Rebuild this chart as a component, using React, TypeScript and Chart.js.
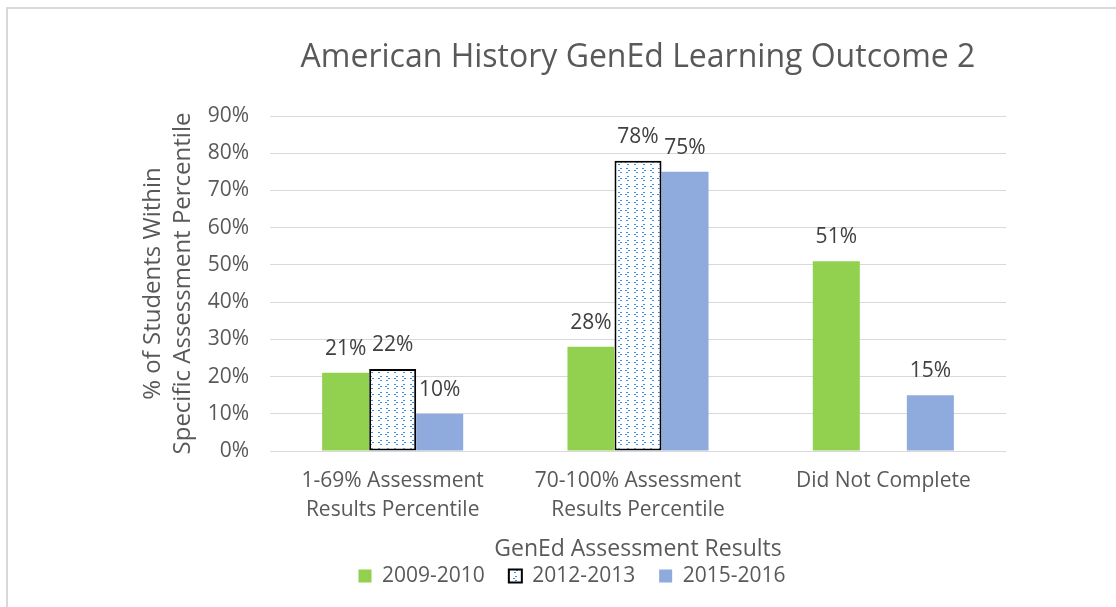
import React, { useEffect, useRef } from "react";
import { Chart, registerables } from "chart.js";

Chart.register(...registerables);

const chartTitle = "American History GenEd Learning Outcome 2";
const categories: (string | string[])[] = [
  ["1-69% Assessment", "Results Percentile"],
  ["70-100% Assessment", "Results Percentile"],
  "Did Not Complete",
];
const seriesNames = ["2009-2010", "2012-2013", "2015-2016"];
const values2009 = [21, 28, 51];
const values2012: (number | null)[] = [22, 78, null];
const values2015 = [10, 75, 15];
const yMin = 0;
const yMax = 90;
const yStep = 10;
const yTitle = ["% of Students Within", "Specific Assessment Percentile"];
const xTitle = "GenEd Assessment Results";

const FONT = '"Open Sans", "Noto Sans", sans-serif';

function makePattern(): CanvasPattern | string {
  const c = document.createElement("canvas");
  c.width = 16;
  c.height = 16;
  const g = c.getContext("2d");
  if (!g) return "#ffffff";
  g.fillStyle = "#ffffff";
  g.fillRect(0, 0, 16, 16);
  g.fillStyle = "#3b8fe3";
  const dots = [
    // "<" in top-left cell
    [3, 0], [1, 2], [3, 4],
    // ">" in top-right cell
    [10, 0], [12, 2], [10, 4],
    // ">" in bottom-left cell
    [2, 8], [4, 10], [2, 12],
    // "<" in bottom-right cell
    [12, 8], [10, 10], [12, 12],
  ];
  dots.forEach(([x, y]) => g.fillRect(x, y, 2, 1));
  const p = g.createPattern(c, "repeat");
  return p || "#ffffff";
}

const dataLabelPlugin = {
  id: "barValueLabels",
  afterDatasetsDraw(chart: any) {
    const ctx = chart.ctx;
    ctx.save();
    ctx.font = `21px ${FONT}`;
    ctx.fillStyle = "#404040";
    ctx.textAlign = "center";
    ctx.textBaseline = "middle";
    chart.data.datasets.forEach((ds: any, i: number) => {
      const meta = chart.getDatasetMeta(i);
      meta.data.forEach((el: any, j: number) => {
        const v = ds.data[j];
        if (v === null || v === undefined) return;
        ctx.fillText(`${v}%`, el.x, el.y - 24);
      });
    });
    ctx.restore();
  },
};

export default function App() {
  const ref = useRef<HTMLCanvasElement | null>(null);

  useEffect(() => {
    if (!ref.current) return;
    const pattern = makePattern();
    const chart = new Chart(ref.current, {
      type: "bar",
      data: {
        labels: categories,
        datasets: [
          {
            label: seriesNames[0],
            data: values2009,
            backgroundColor: "#92d050",
            borderWidth: 0,
          },
          {
            label: seriesNames[1],
            data: values2012,
            backgroundColor: pattern as any,
            borderColor: "#000000",
            borderWidth: 2,
            borderSkipped: false,
          },
          {
            label: seriesNames[2],
            data: values2015,
            backgroundColor: "#8faadc",
            borderWidth: 0,
          },
        ],
      },
      options: {
        responsive: false,
        animation: false,
        devicePixelRatio: 1,
        layout: { padding: { left: 28, right: 0, top: 0, bottom: 10.5 } },
        datasets: {
          bar: { categoryPercentage: 0.575, barPercentage: 1 },
        },
        plugins: {
          title: {
            display: true,
            text: chartTitle,
            color: "#595959",
            fullSize: false,
            font: { family: FONT, size: 32, weight: "normal", lineHeight: 1.2 },
            padding: { top: 38.8, bottom: 38.8 },
          },
          legend: {
            display: true,
            position: "bottom",
            labels: {
              color: "#595959",
              font: { family: FONT, size: 21 },
              boxWidth: 13,
              boxHeight: 13,
              padding: 24,
            },
          },
          tooltip: { enabled: false },
        },
        scales: {
          x: {
            grid: { display: false, drawTicks: false },
            border: { display: false },
            ticks: {
              color: "#595959",
              font: { family: FONT, size: 21, lineHeight: 29 / 21 },
              padding: 15.5,
              maxRotation: 0,
              autoSkip: false,
            },
            title: {
              display: true,
              text: xTitle,
              color: "#595959",
              font: { family: FONT, size: 23, lineHeight: 1.2 },
              padding: { top: 0, bottom: -21.3 },
            },
            afterFit: (s: any) => {
              s.height = 90.5;
            },
          },
          y: {
            min: yMin,
            max: yMax,
            grid: { color: "#d9d9d9", lineWidth: 1, drawTicks: false },
            border: { display: false },
            ticks: {
              stepSize: yStep,
              color: "#595959",
              font: { family: FONT, size: 21 },
              padding: 21,
              callback: (v: any) => `${v}%`,
            },
            title: {
              display: true,
              text: yTitle,
              color: "#595959",
              font: { family: FONT, size: 24, lineHeight: 30 / 24 },
              padding: { top: 110, bottom: 0 },
            },
            afterFit: (s: any) => {
              s.width = 242;
            },
          },
          yR: {
            position: "right",
            display: true,
            grid: { display: false, drawTicks: false },
            border: { display: false },
            ticks: { display: false },
            afterFit: (s: any) => {
              s.width = 110;
            },
          },
        },
      },
      plugins: [dataLabelPlugin],
    } as any);
    return () => chart.destroy();
  }, []);

  return (
    <div
      style={{
        position: "absolute",
        left: 0,
        top: 0,
        width: 1116,
        height: 607,
        background: "#ffffff",
        overflow: "hidden",
      }}
    >
      <canvas ref={ref} width={1116} height={607} style={{ position: "absolute", left: 0, top: 0 }} />
      <div
        style={{
          position: "absolute",
          left: 6,
          top: 7,
          width: 1200,
          height: 700,
          borderLeft: "2px solid #d9d9d9",
          borderTop: "2px solid #d9d9d9",
          pointerEvents: "none",
        }}
      />
    </div>
  );
}
